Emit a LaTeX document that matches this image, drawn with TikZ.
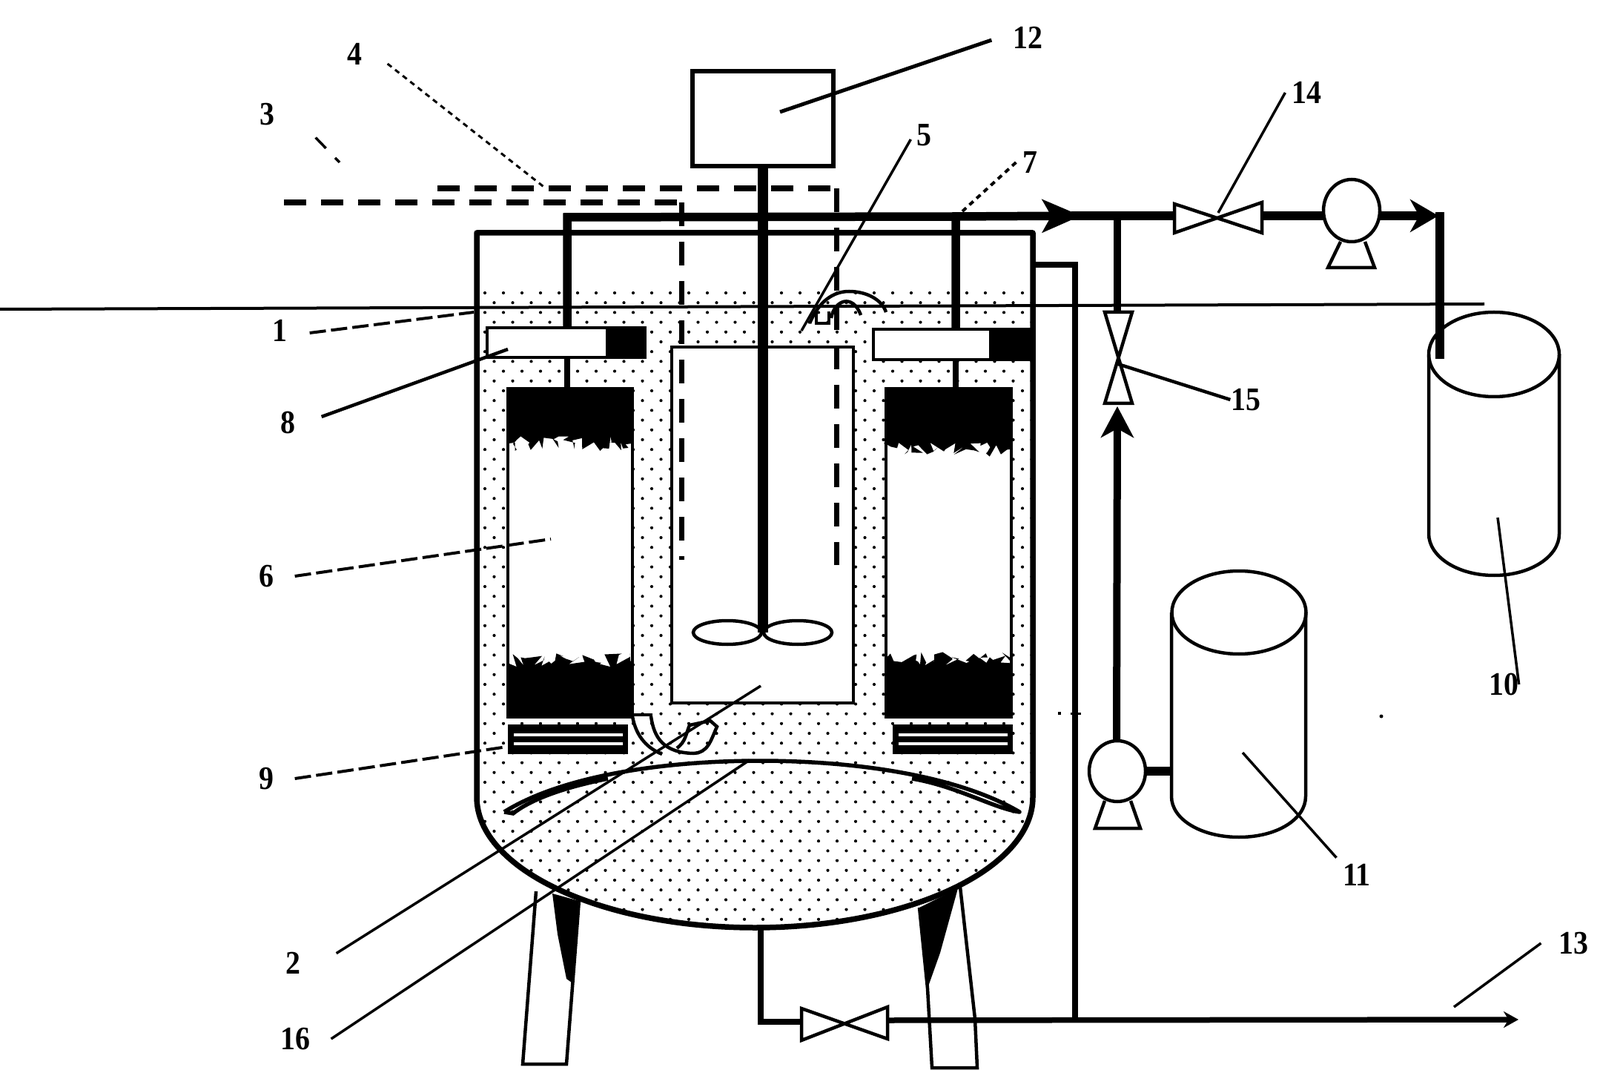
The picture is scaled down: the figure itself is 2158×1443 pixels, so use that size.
\documentclass[tikz,border=0pt]{standalone}
\usepackage{fontspec}
\newfontfamily\lblfont{Liberation Serif}[FakeStretch=0.9]
\usetikzlibrary{decorations.pathmorphing,arrows.meta}
\tikzset{
  lbl/.style={inner sep=0.8mm,font=\fontsize{12.6}{15}\lblfont\bfseries},
  leader/.style={line width=0.35mm},
  dashleader/.style={line width=0.4mm,dash pattern=on 2.2mm off 0.7mm},
  dotleader/.style={line width=0.3mm,dash pattern=on 0.7mm off 0.6mm},
  wall/.style={line width=0.75mm},
  tube/.style={line width=0.45mm},
  pipe/.style={line width=1.15mm},
  pipetip/.style={-{Stealth[length=#1,width=4.4mm,inset=1.2mm]}},
  airpipe/.style={line width=0.85mm,dash pattern=on 3mm off 2mm},
  airdown/.style={line width=0.7mm,dash pattern=on 3.2mm off 2.1mm},
  jag/.style={decorate,decoration={random steps,segment length=0.4mm,amplitude=1mm}}
}
\begin{document}
\begin{tikzpicture}[x=0.1mm,y=-0.1mm,>=stealth]
  \useasboundingbox (0,0) rectangle (2158,1443);
  % liquid
  \begin{scope}
    \clip (643,392) -- (1393,392) -- (1393,1075) .. controls (1393,1172) and (1225,1251) .. (1018,1251) .. controls (811,1251) and (643,1172) .. (643,1075) -- cycle;
    \foreach \rw [evaluate=\rw as \ry using 395+13.2*\rw, evaluate=\rw as \rx using {654+12.5*mod(\rw,2)}] in {0,...,65}
      \foreach \cl in {0,...,29}
        \fill (\rx+25*\cl,\ry) circle [radius=0.21mm];
  \end{scope}
  % vessel
  \draw[wall,line join=round] (643,1075) -- (643,314) -- (1393,314) -- (1393,1075) .. controls (1393,1172) and (1225,1251) .. (1018,1251) .. controls (811,1251) and (643,1172) .. (643,1075);
  % legs
  \draw[tube] (723,1202) -- (705,1435) -- (764,1435) -- (781,1214);
  \fill (745,1205) -- (781,1215) -- (771,1325) -- (764,1320) -- (752,1260) -- cycle;
  \draw[tube] (1295,1196) -- (1315,1374) -- (1318,1440) -- (1257,1440) -- (1251,1333) -- (1240,1224);
  \fill (1240,1224) -- (1292,1198) -- (1268,1285) -- (1252,1330) -- cycle;
  % draft tube
  \draw[tube,fill=white] (906,468) rectangle (1151,948);
  % membrane modules
  \fill[white] (685,524) rectangle (853,967);
  \fill (685,524) -- (853,524) -- (853,598) decorate[jag] {-- (685,598)} -- cycle;
  \fill (685,967) -- (853,967) -- (853,890) decorate[jag] {-- (685,890)} -- cycle;
  \draw[tube] (685,524) rectangle (853,967);
  \fill[white] (1195,524) rectangle (1364,967);
  \fill (1195,524) -- (1364,524) -- (1364,606) decorate[jag] {-- (1195,606)} -- cycle;
  \fill (1195,967) -- (1364,967) -- (1364,888) decorate[jag] {-- (1195,888)} -- cycle;
  \draw[tube] (1195,524) rectangle (1364,967);
  % level boxes
  \draw[tube,fill=white] (657,442) rectangle (870,482);
  \fill (817,442) rectangle (870,482);
  \draw[tube,fill=white] (1178,444) rectangle (1389,485);
  \fill (1334,444) rectangle (1389,485);
  % aerators
  \foreach \ax in {685,1204}{
    \fill (\ax,977) rectangle (\ax+162,1017);
    \fill[white] (\ax+8,989) rectangle (\ax+155,993);
    \fill[white] (\ax+8,1001) rectangle (\ax+155,1005);
  }
  % sieve plate
  \draw[line width=0.55mm,line join=round] (680,1095) .. controls (760,1045) and (900,1026) .. (1025,1026) .. controls (1150,1026) and (1290,1045) .. (1375,1095) .. controls (1340,1090) and (1290,1060) .. (1230,1050);
  \draw[line width=0.55mm] (680,1095) -- (692,1097) .. controls (720,1075) and (770,1060) .. (820,1050);
  % lower gas hoses
  \draw[tube] (850,964) -- (880,964);
  \draw[tube] (853,966) .. controls (858,995) and (875,1010) .. (893,1017);
  \draw[tube] (878,966) .. controls (882,995) and (895,1015) .. (935,1016) .. controls (955,1015) and (958,1000) .. (967,980) -- (958,972) -- (930,978) .. controls (925,990) and (925,1000) .. (913,1009);
  % upper gas hoses
  \draw[tube] (1092,436) .. controls (1105,405) and (1125,393) .. (1145,393) .. controls (1170,393) and (1190,405) .. (1195,421);
  \draw[tube] (1121,429) .. controls (1125,405) and (1150,395) .. (1161,425);
  \draw[tube] (1101,420) -- (1101,436) -- (1118,436) -- (1118,420);
  % air pipes
  \draw[airpipe] (383,273) -- (919,273);
  \draw[airdown] (919,273) -- (919,755);
  \draw[airpipe] (590,254) -- (1128,254);
  \draw[airdown] (1128,254) -- (1128,762);
  % permeate pipes
  \draw[pipe] (765,441) -- (765,293) -- (1289,292) -- (1289,444);
  \draw[wall] (765,482) -- (765,524);
  \draw[wall] (1289,485) -- (1289,525);
  \draw[pipe] (1445,291) -- (1584,291);
  \draw[pipe,pipetip=5.2mm] (1289,292) -- (1458,291);
  \draw[pipe] (1702,291) -- (1785,291);
  \draw[pipe,pipetip=3.8mm] (1861,291) -- (1940,291);
  \draw[pipe] (1942,286) -- (1942,484);
  \draw[wall,line width=1mm] (1507,291) -- (1507,421);
  \draw[wall,line width=1mm,pipetip=4.2mm] (1506,1000) -- (1507,548);
  % valves
  \draw[tube,fill=white] (1584,275) -- (1702,314) -- (1702,273) -- (1584,314) -- cycle;
  \draw[tube,fill=white] (1490,421) -- (1527,544) -- (1490,544) -- (1527,421) -- cycle;
  \draw[tube,fill=white] (1081,1360) -- (1197,1401) -- (1197,1358) -- (1081,1403) -- cycle;
  % pumps
  \draw[tube] (1808,326) -- (1791,361) -- (1854,361) -- (1841,326);
  \draw[tube,fill=white] (1823,284) circle [x radius=3.8mm,y radius=4.2mm];
  \draw[tube] (1490,1080) -- (1477,1117) -- (1538,1117) -- (1525,1080);
  \draw[tube,fill=white] (1507,1040) circle [x radius=3.8mm,y radius=4.1mm];
  \draw[pipe] (1545,1040) -- (1580,1040);
  % tanks
  \draw[tube] (1580,826) -- (1580,1074) .. controls (1580,1105) and (1620,1129) .. (1671,1129) .. controls (1722,1129) and (1761,1105) .. (1761,1074) -- (1761,826);
  \draw[tube] (1671,826) circle [x radius=9.05mm,y radius=5.6mm];
  \draw[tube] (1927,478) -- (1927,720) .. controls (1927,750) and (1965,776) .. (2015,776) .. controls (2065,776) and (2103,750) .. (2103,720) -- (2103,478);
  \draw[tube] (2015,478) circle [x radius=8.8mm,y radius=5.7mm];
  % discharge
  \draw[wall] (1393,357) -- (1450,357) -- (1450,1375);
  \draw[wall] (1026,1251) -- (1026,1378) -- (1081,1378);
  \draw[wall,-{Stealth[length=2mm,width=2.2mm]}] (1197,1376) -- (2048,1375);
  % agitator
  \draw[line width=1.4mm] (1029,224) -- (1029,853);
  \draw[tube] (981,853) circle [x radius=4.6mm,y radius=1.6mm];
  \draw[tube] (1076,853) circle [x radius=4.6mm,y radius=1.6mm];
  \draw[line width=0.55mm,fill=white] (934,96) rectangle (1124,224);
  \draw[line width=0.4mm] (0,417) -- (2002,410);
  % labels
  \node[lbl] (l1) at (377,446) {1};
  \node[lbl] (l2) at (395,1299) {2};
  \node[lbl] (l3) at (360,154) {3};
  \node[lbl] (l4) at (478,73) {4};
  \node[lbl] (l5) at (1246,182) {5};
  \node[lbl] (l6) at (359,777) {6};
  \node[lbl] (l7) at (1389,219) {7};
  \node[lbl] (l8) at (388,570) {8};
  \node[lbl] (l9) at (359,1050) {9};
  \node[lbl] (l10) at (2028,923) {10};
  \node[lbl] (l11) at (1830,1180) {11};
  \node[lbl] (l12) at (1386,51) {12};
  \node[lbl] (l13) at (2122,1272) {13};
  \node[lbl] (l14) at (1762,125) {14};
  \node[lbl] (l15) at (1680,539) {15};
  \node[lbl] (l16) at (398,1401) {16};
  % leader ends
  \coordinate (c1) at (639,421);
  \coordinate (c2) at (1026,925);
  \coordinate (c3) at (458,219);
  \coordinate (c4) at (736,254);
  \coordinate (c5) at (1081,446);
  \coordinate (c6) at (743,727);
  \coordinate (c7) at (1298,285);
  \coordinate (c8) at (685,471);
  \coordinate (c9) at (684,1007);
  \coordinate (c10) at (2020,698);
  \coordinate (c11) at (1676,1015);
  \coordinate (c12) at (1052,151);
  \coordinate (c13) at (1961,1358);
  \coordinate (c14) at (1643,287);
  \coordinate (c15) at (1508,491);
  \coordinate (c16) at (1011,1025);
  \draw[dashleader] ([xshift=2.2mm,yshift=-0.3mm]l1.east) -- (c1);
  \draw[leader] ([xshift=4mm,yshift=-1mm]l2.north east) -- (c2);
  \draw[leader,dash pattern=on 2mm off 1.8mm] ([xshift=4.7mm,yshift=-0.8mm]l3.south east) -- (c3);
  \draw[dotleader] ([xshift=2.6mm,yshift=-1.3mm]l4.east) -- (c4);
  \draw[leader] ([xshift=0.1mm,yshift=-0.6mm]l5.west) -- (c5);
  \draw[dashleader] ([xshift=2mm]l6.east) -- (c6);
  \draw[dotleader,line width=0.4mm] (l7.west) -- (c7);
  \draw[leader,line width=0.45mm] ([xshift=2.7mm,yshift=0.8mm]l8.east) -- (c8);
  \draw[dashleader] ([xshift=2mm]l9.east) -- (c9);
  \draw[leader] ([xshift=-0.8mm]l10.east) -- (c10);
  \draw[leader] (l11.north west) -- (c11);
  \draw[leader,line width=0.5mm] ([xshift=-2mm,yshift=-0.3mm]l12.west) -- (c12);
  \draw[leader] ([xshift=-1.5mm]l13.west) -- (c13);
  \draw[leader] (l14.west) -- (c14);
  \draw[leader,line width=0.45mm] ([xshift=0.8mm]l15.west) -- (c15);
  \draw[leader] ([xshift=2mm]l16.east) -- (c16);
  % specks
  \fill (1863,966) circle [radius=0.25mm];
  \fill (1427,960) rectangle (1431,964);
  \fill (1444,961) rectangle (1458,964);
\end{tikzpicture}
\end{document}
